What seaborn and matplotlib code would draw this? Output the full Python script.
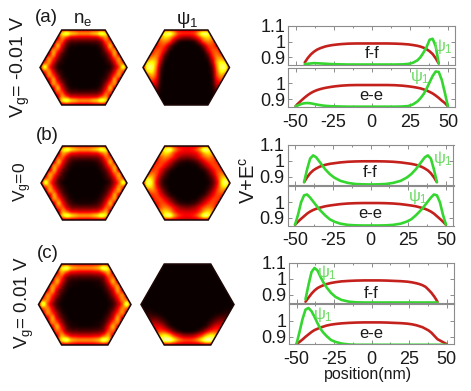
import matplotlib
matplotlib.use('Agg')
import matplotlib.pyplot as plt
from matplotlib.patches import Polygon
import numpy as np
import seaborn as sns

# curve positions
x_ff = [-44, -42, -40, -38, -36, -34, -32, -30, -27, -24, -20, -15, -10, -5, 0, 5, 10, 15, 20, 24, 27, 30, 32, 34, 36, 38, 40, 42, 44]
x_ee = [-50, -48, -46, -44, -42, -40, -38, -36, -34, -32, -30, -27, -24, -20, -15, -10, -5, 0, 5, 10, 15, 20, 24, 27, 30, 32, 34, 36, 38, 40, 42, 44, 46, 48, 50]

# (a) Vg = -0.01
a_ff_red = [.866, .895, .918, .935, .948, .957, .964, .970, .976, .980, .984, .987, .988, .988, .988, .988, .988, .987, .985, .982, .978, .973, .968, .961, .951, .938, .92, .893, .86]
a_ff_green = [.855, .858, .86, .862, .861, .86, .859, .858, .856, .855, .854, .853, .853, .853, .853, .853, .853, .853, .854, .857, .864, .88, .9, .93, .965, 1.012, 1.018, .97, .86]
a_ee_red = [.855, .875, .893, .91, .925, .938, .948, .956, .962, .967, .971, .976, .98, .984, .987, .988, .988, .988, .988, .988, .987, .984, .98, .976, .971, .967, .961, .954, .945, .935, .922, .907, .89, .875, .855]
a_ee_green = [.855, .862, .87, .874, .875, .873, .869, .865, .862, .859, .857, .855, .854, .853, .852, .852, .852, .852, .852, .852, .852, .853, .856, .866, .885, .905, .93, .965, 1.005, 1.045, 1.073, 1.07, 1.02, .94, .855]

# (b) Vg = 0
b_ff_red = [.865, .895, .92, .938, .95, .96, .967, .973, .979, .983, .988, .992, .994, .995, .995, .995, .994, .992, .988, .983, .979, .973, .967, .96, .95, .938, .92, .895, .865]
b_ff_green = [.865, .945, 1.012, 1.032, 1.02, .995, .97, .945, .915, .893, .873, .86, .853, .851, .85, .851, .853, .86, .873, .893, .915, .945, .97, .995, 1.02, 1.032, 1.012, .945, .865]
b_ee_red = [.855, .875, .893, .91, .927, .94, .95, .958, .964, .969, .974, .979, .983, .988, .992, .994, .995, .995, .995, .994, .992, .988, .983, .979, .974, .969, .964, .958, .95, .94, .927, .91, .893, .875, .855]
b_ee_green = [.855, .92, 1.0, 1.045, 1.05, 1.03, 1.005, .98, .955, .935, .915, .89, .875, .862, .854, .851, .85, .85, .85, .851, .854, .862, .875, .89, .915, .935, .955, .98, 1.005, 1.03, 1.05, 1.045, 1.0, .92, .855]

# (c) Vg = 0.01
c_ff_red = [.855, .88, .905, .925, .94, .95, .958, .965, .972, .977, .982, .985, .987, .988, .988, .988, .987, .985, .983, .98, .976, .97, .965, .958, .948, .93, .91, .885, .855]
c_ff_green = [.87, .96, 1.04, 1.066, 1.05, 1.01, .975, .945, .91, .885, .866, .855, .851, .85, .85, .85, .85, .85, .85, .85, .85, .85, .85, .85, .85, .85, .85, .85, .85]
c_ee_red = [.855, .868, .883, .9, .915, .93, .942, .95, .958, .964, .97, .976, .98, .984, .987, .989, .99, .99, .99, .989, .987, .985, .982, .978, .972, .966, .96, .95, .94, .925, .905, .885, .875, .865, .855]
c_ee_green = [.855, .93, 1.01, 1.07, 1.08, 1.06, 1.025, .985, .95, .925, .905, .88, .868, .858, .852, .85, .85, .85, .85, .85, .85, .85, .85, .85, .85, .85, .85, .85, .85, .85, .85, .85, .85, .85, .85]

# density maps, outer corner to centre: quarter grids mirrored both ways
ne_a = [
    [.25, .25, .25, .25, .25, .25, .27, .27, .26, .25, .25],
    [.25, .25, .25, .25, .3, .6, .72, .6, .55, .5, .5],
    [.25, .25, .25, .25, .28, .52, .42, .3, .28, .27, .27],
    [.25, .25, .25, .25, .42, .42, .2, .11, .1, .09, .09],
    [.25, .25, .25, .3, .55, .3, .11, .03, .02, .01, .01],
    [.25, .25, .25, .5, .42, .2, .05, .01, 0, 0, 0],
    [.25, .25, .3, .53, .28, .1, .03, 0, 0, 0, 0],
    [.25, .25, .5, .4, .18, .05, .01, 0, 0, 0, 0],
    [.25, .42, .5, .28, .09, .03, 0, 0, 0, 0, 0],
    [.3, .68, .42, .2, .05, .01, 0, 0, 0, 0, 0],
]
ne_b = [
    [.25, .25, .25, .25, .25, .25, .28, .28, .27, .26, .26],
    [.25, .25, .25, .25, .3, .6, .72, .62, .56, .52, .52],
    [.25, .25, .25, .25, .28, .54, .46, .34, .32, .3, .3],
    [.25, .25, .25, .25, .42, .44, .26, .16, .14, .13, .13],
    [.25, .25, .25, .3, .55, .34, .16, .07, .04, .03, .03],
    [.25, .25, .25, .5, .44, .24, .09, .03, .01, .01, .01],
    [.25, .25, .3, .54, .32, .14, .05, .01, 0, 0, 0],
    [.25, .25, .52, .43, .22, .08, .02, 0, 0, 0, 0],
    [.25, .42, .52, .32, .13, .05, .01, 0, 0, 0, 0],
    [.3, .7, .46, .25, .09, .02, 0, 0, 0, 0, 0],
]
ne_c = [
    [.25, .25, .25, .25, .25, .28, .3, .3, .28, .27, .27],
    [.25, .25, .25, .25, .32, .62, .74, .58, .52, .5, .5],
    [.25, .25, .25, .25, .3, .55, .44, .32, .3, .28, .28],
    [.25, .25, .25, .25, .44, .42, .2, .13, .11, .1, .1],
    [.25, .25, .25, .32, .55, .32, .12, .04, .03, .02, .02],
    [.25, .25, .25, .5, .42, .2, .06, .02, .01, 0, 0],
    [.25, .25, .32, .53, .28, .12, .03, 0, 0, 0, 0],
    [.25, .28, .5, .4, .2, .06, .01, 0, 0, 0, 0],
    [.25, .44, .5, .3, .11, .03, 0, 0, 0, 0, 0],
    [.32, .72, .44, .22, .07, .01, 0, 0, 0, 0, 0],
]
psi_b = [
    [.25, .25, .25, .25, .25, .3, .32, .3, .27, .25, .25],
    [.25, .25, .25, .25, .38, .68, .75, .55, .4, .34, .32],
    [.25, .25, .25, .3, .5, .62, .58, .42, .32, .28, .27],
    [.25, .25, .25, .3, .44, .5, .44, .33, .22, .17, .15],
    [.25, .25, .28, .34, .42, .4, .3, .18, .09, .05, .04],
    [.25, .25, .3, .4, .4, .3, .18, .08, .02, .01, 0],
    [.25, .28, .38, .42, .32, .18, .07, .02, 0, 0, 0],
    [.28, .4, .5, .42, .24, .1, .02, 0, 0, 0, 0],
    [.32, .62, .6, .38, .16, .05, .01, 0, 0, 0, 0],
    [.38, .75, .65, .34, .13, .03, 0, 0, 0, 0, 0],
]
# asymmetric top to bottom: left half only
psi_a = [
    [.25, .25, .25, .25, .25, .28, .3, .3, .27, .25, .25],
    [.25, .25, .25, .25, .4, .68, .75, .6, .42, .37, .36],
    [.25, .25, .25, .3, .5, .62, .58, .42, .28, .2, .18],
    [.25, .25, .25, .3, .45, .5, .42, .22, .07, .03, .02],
    [.25, .25, .28, .33, .42, .38, .2, .05, .01, 0, 0],
    [.25, .25, .3, .42, .42, .28, .08, .01, 0, 0, 0],
    [.25, .28, .4, .48, .38, .15, .02, 0, 0, 0, 0],
    [.3, .42, .55, .52, .3, .07, .01, 0, 0, 0, 0],
    [.35, .62, .68, .55, .22, .03, 0, 0, 0, 0, 0],
    [.38, .72, .75, .5, .14, .01, 0, 0, 0, 0, 0],
    [.35, .62, .68, .45, .1, .01, 0, 0, 0, 0, 0],
    [.3, .42, .55, .4, .08, 0, 0, 0, 0, 0, 0],
    [.28, .32, .42, .32, .06, 0, 0, 0, 0, 0, 0],
    [.25, .25, .3, .25, .05, 0, 0, 0, 0, 0, 0],
    [.2, .2, .22, .16, .03, 0, 0, 0, 0, 0, 0],
    [.1, .1, .1, .08, .02, 0, 0, 0, 0, 0, 0],
    [.03, .03, .03, .02, 0, 0, 0, 0, 0, 0, 0],
    [0, 0, 0, 0, 0, 0, 0, 0, 0, 0, 0],
    [0, 0, 0, 0, 0, 0, 0, 0, 0, 0, 0],
]
psi_c = [
    [0, 0, 0, 0, 0, 0, 0, 0, 0, 0, 0],
    [0, 0, 0, 0, 0, 0, 0, 0, 0, 0, 0],
    [0, 0, 0, 0, 0, 0, 0, 0, 0, 0, 0],
    [0, 0, 0, 0, 0, 0, 0, 0, 0, 0, 0],
    [0, 0, 0, 0, 0, 0, 0, 0, 0, 0, 0],
    [0, 0, 0, 0, 0, 0, 0, 0, 0, 0, 0],
    [0, 0, 0, 0, 0, 0, 0, 0, 0, 0, 0],
    [0, 0, 0, 0, 0, 0, 0, 0, 0, 0, 0],
    [0, 0, 0, 0, 0, 0, 0, 0, 0, 0, 0],
    [0, 0, 0, 0, 0, 0, 0, 0, 0, 0, 0],
    [.01, .01, .01, 0, 0, 0, 0, 0, 0, 0, 0],
    [.04, .04, .04, .02, .01, 0, 0, 0, 0, 0, 0],
    [.1, .1, .1, .1, .06, .02, 0, 0, 0, 0, 0],
    [.2, .2, .2, .2, .16, .08, .02, 0, 0, 0, 0],
    [.28, .28, .28, .3, .3, .2, .08, .02, 0, 0, 0],
    [.3, .3, .3, .35, .42, .4, .28, .14, .06, .02, .01],
    [.3, .3, .3, .45, .6, .68, .6, .42, .3, .22, .2],
    [.3, .3, .3, .42, .6, .78, .8, .65, .5, .42, .4],
    [.25, .25, .25, .28, .3, .32, .32, .28, .25, .25, .25],
]

W, H = 471, 391
RED = '#c4201c'
GREEN = '#35d62f'
GREY = '#8c8c8c'

sns.set_theme(style='white')
plt.rcParams['font.family'] = ['Liberation Sans', 'DejaVu Sans']
plt.rcParams['mathtext.fontset'] = 'custom'
plt.rcParams['mathtext.rm'] = 'Liberation Sans'
plt.rcParams['mathtext.it'] = 'Liberation Sans'
plt.rcParams['mathtext.bf'] = 'Liberation Sans'
plt.rcParams['text.color'] = '#1a1a1a'

fig = plt.figure(figsize=(W / 100, H / 100), dpi=100)
hot = sns.color_palette('hot', as_cmap=True)


def px_axes(left, top, right, bottom):
    return fig.add_axes([left / W, 1 - bottom / H, (right - left) / W, (bottom - top) / H])


def draw_hex(grid, left, top, right, bottom, flip_rows=True):
    half = np.array(grid, dtype=float)
    if flip_rows:
        half = np.vstack([half, half[-2::-1]])
    full = np.hstack([half, half[:, -2::-1]])
    ax = px_axes(left - 3, top - 3, right + 3, bottom + 3)
    dx = (right - left) / (full.shape[1] - 1) / 2
    dy = (bottom - top) / (full.shape[0] - 1) / 2
    im = ax.imshow(full, cmap=hot, vmin=0, vmax=.9, interpolation='catrom', aspect='auto',
                   extent=[left - dx, right + dx, bottom + dy, top - dy])
    ax.set_xlim(left - 3, right + 3)
    ax.set_ylim(bottom + 3, top - 3)
    q = (right - left) / 4
    mid = (top + bottom) / 2
    hexagon = Polygon([(left, mid), (left + q, top), (right - q, top), (right, mid), (right - q, bottom), (left + q, bottom)],
                      closed=True, fill=False, edgecolor='#1c0606', linewidth=1.1)
    ax.add_patch(hexagon)
    im.set_clip_path(hexagon)
    ax.axis('off')


draw_hex(ne_a, 40, 30, 127, 105)
draw_hex(psi_a, 143, 30, 229.5, 105, flip_rows=False)
draw_hex(ne_b, 41, 146, 127, 220)
draw_hex(psi_b, 143, 146, 230, 220)
draw_hex(ne_c, 38.5, 264, 131, 345)
draw_hex(psi_c, 141, 264, 234, 345, flip_rows=False)


def line_panel(left, top, right, bottom, xs, red, green, ylim, yticks, name, name_y, psi_xy, show_x):
    ax = px_axes(left, top, right, bottom)
    sns.lineplot(x=xs, y=red, color=RED, linewidth=1.9, ax=ax, errorbar=None)
    sns.lineplot(x=xs, y=green, color=GREEN, linewidth=1.9, ax=ax, errorbar=None)
    ax.set_xlim(-55, 55)
    ax.set_ylim(*ylim)
    ax.set_xticks([-50, -25, 0, 25, 50])
    ax.set_xticks([-37.5, -12.5, 12.5, 37.5], minor=True)
    ax.set_yticks(yticks)
    ax.set_yticklabels(['%g' % t for t in yticks], fontsize=13, color='#1a1a1a')
    if show_x:
        ax.set_xticklabels(['-50', '-25', '0', '25', '50'], fontsize=13, color='#1a1a1a')
    else:
        ax.set_xticklabels([])
    ax.tick_params(which='both', direction='in', top=True, right=True, bottom=True, left=True,
                   color=GREY, width=0.7, length=3, pad=2)
    ax.tick_params(axis='x', pad=5)
    ax.tick_params(which='minor', length=1.5)
    for s in ax.spines.values():
        s.set_color(GREY)
        s.set_linewidth(0.8)
    ax.text(0, name_y, name, ha='center', va='center', fontsize=12)
    fig.text(psi_xy[0] / W, 1 - psi_xy[1] / H, r'$\psi_1$', color='#6fdc66', fontsize=12, ha='center', va='center')
    return ax


line_panel(288, 26, 455.5, 65, x_ff, a_ff_red, a_ff_green, (.85, 1.1), [.9, 1, 1.1], 'f-f', .925, (443, 46), False)
line_panel(288, 68, 455.5, 107, x_ee, a_ee_red, a_ee_green, (.85, 1.095), [.9, 1], 'e-e', .92, (420, 77), True)
line_panel(287.5, 144.5, 453.5, 184.5, x_ff, b_ff_red, b_ff_green, (.85, 1.1), [.9, 1, 1.1], 'f-f', .925, (443, 158), False)
line_panel(287.5, 186, 453.5, 225.5, x_ee, b_ee_red, b_ee_green, (.85, 1.105), [.9, 1], 'e-e', .93, (418, 196), True)
line_panel(289, 262.5, 454, 302.5, x_ff, c_ff_red, c_ff_green, (.85, 1.1), [.9, 1, 1.1], 'f-f', .905, (327, 272), False)
line_panel(289, 304, 454, 344, x_ee, c_ee_red, c_ee_green, (.855, 1.105), [.9, 1], 'e-e', .92, (323, 314), True)


# left labels and headings
def label(x, y, s, **kw):
    fig.text(x / W, 1 - y / H, s, ha='center', va='center', **kw)


label(46, 18, '(a)', fontsize=13.5)
label(47, 135, '(b)', fontsize=13.5)
label(48, 253, '(c)', fontsize=13.5)
label(83, 20, r'$\mathregular{n_e}$', fontsize=13.5)
label(187, 20, r'$\psi_1$', fontsize=13.5)
label(20, 67, r'$\mathregular{V_g}$= -0.01 V', fontsize=14, rotation=90)
label(23, 182, r'$\mathregular{V_g}$=0', fontsize=12.5, rotation=90)
label(24, 303, r'$\mathregular{V_g}$= 0.01 V', fontsize=13.5, rotation=90)
label(249, 180, r'V+E$\mathregular{^c}$', fontsize=14.5, rotation=90)
label(368, 374, 'position(nm)', fontsize=11.5)

fig.savefig('out.png', dpi=100, facecolor='white')
